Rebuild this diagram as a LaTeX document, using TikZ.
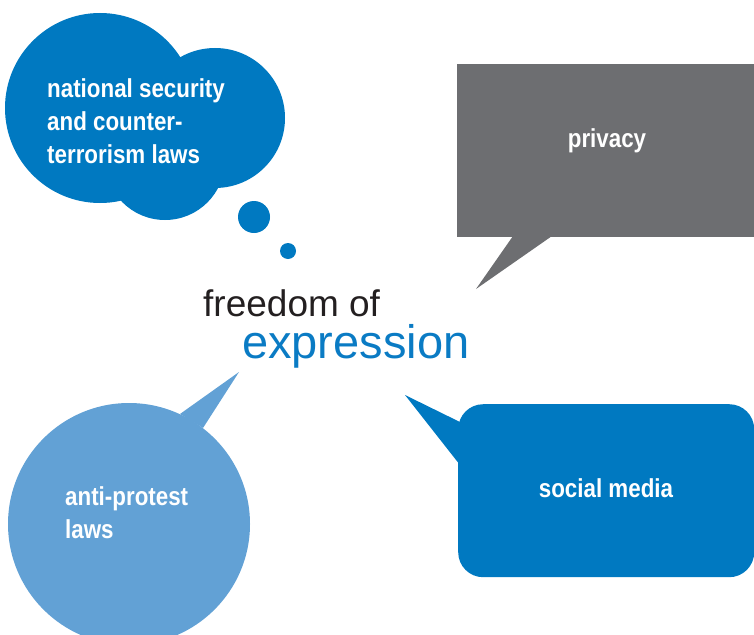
\documentclass[tikz,border=0pt]{standalone}
\usepackage{fontspec}
\setmainfont{Liberation Sans}
\newfontfamily\condfont[FakeStretch=0.86]{Liberation Sans}
\definecolor{cloudblue}{HTML}{0079C1}
\definecolor{boxgray}{HTML}{6D6E71}
\definecolor{lightblue}{HTML}{62A1D5}
\definecolor{darktext}{HTML}{231F20}
\definecolor{exblue}{HTML}{0A7BC4}
\tikzset{
  bubbletext/.style={text=white, inner sep=0pt, align=left, font=\condfont\bfseries\fontsize{26}{33}\selectfont},
}
\begin{document}
\begin{tikzpicture}[x=1pt,y=-1pt]
\useasboundingbox (0,0) rectangle (754,634);
\clip (0,0) rectangle (754,634);
% thought cloud
\fill[cloudblue] (100,108) circle (95pt) (215,118) circle (70pt) (165,160) circle (60pt);
\node[circle, fill=cloudblue, minimum size=32pt, inner sep=0pt] (dotA) at (254,217) {};
\node[circle, fill=cloudblue, minimum size=16pt, inner sep=0pt] (dotB) at (288,251) {};
\node[bubbletext, anchor=base west] (nat) at (47,163) {national security\\and counter-\\terrorism laws};
% privacy box
\node[rectangle, fill=boxgray, minimum width=300pt, minimum height=173pt, inner sep=0pt, anchor=north west] (priv) at (457,64) {};
\coordinate (privtip) at (476,289);
\fill[boxgray] (513,236) -- (privtip) -- (552,236) -- cycle;
\node[bubbletext, anchor=base] (privtext) at (607,147) {privacy};
% anti-protest circle
\node[circle, fill=lightblue, minimum size=242pt, inner sep=0pt] (anti) at (129,524) {};
\coordinate (antitip) at (239,372);
\fill[lightblue] (180,414) -- (antitip) -- (203,428) -- cycle;
\node[bubbletext, anchor=base west] (antitext) at (65,538) {anti-protest\\laws};
% social media box
\node[rectangle, rounded corners=25pt, fill=cloudblue, minimum width=296pt, minimum height=173pt, inner sep=0pt, anchor=north west] (soc) at (458,404) {};
\coordinate (soctip) at (405,395);
\fill[cloudblue] (462,423) -- (soctip) -- (460,465) -- cycle;
\node[bubbletext, anchor=base] (soctext) at (606,497) {social media};
% centre text
\node[anchor=base west, inner sep=0pt, text=darktext, font=\fontsize{37}{42}\selectfont] (free) at (203,316) {freedom of};
\node[anchor=base west, inner sep=0pt, text=exblue, font=\fontsize{47}{52}\selectfont] (expr) at (242,358) {expression};
\end{tikzpicture}
\end{document}
